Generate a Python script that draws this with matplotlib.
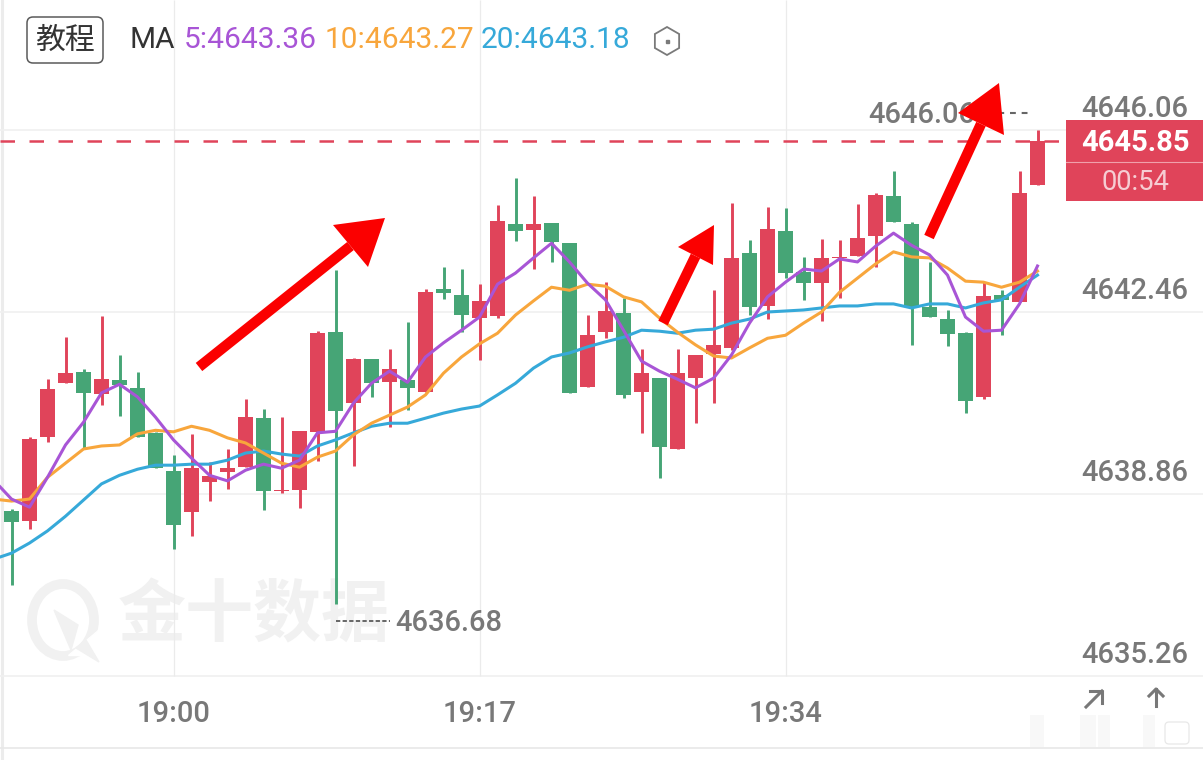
"""K-line chart with MA lines, redrawn from a screenshot."""

import numpy as np
import matplotlib
matplotlib.use("Agg")
import matplotlib.pyplot as plt
from matplotlib.patches import Ellipse, FancyBboxPatch, Polygon, Rectangle, RegularPolygon

plt.rcParams["font.family"] = ["Roboto", "Noto Sans CJK SC", "DejaVu Sans"]

# -----------------------------------------------------------------------
# Data (prices)
# -----------------------------------------------------------------------
opens = [4638.52, 4638.32, 4639.99, 4641.05, 4641.27, 4640.84, 4641.11, 4640.96, 4640.07, 4639.31,
         4638.50, 4639.10, 4639.29, 4639.39, 4640.36, 4638.91, 4638.94, 4640.09, 4642.06, 4640.66,
         4641.53, 4641.07, 4641.11, 4640.88, 4642.91, 4642.79, 4642.34, 4642.38, 4644.20, 4644.08,
         4644.22, 4643.82, 4640.98, 4642.06, 4642.44, 4640.88, 4641.15, 4639.75, 4641.15, 4641.63,
         4641.75, 4643.63, 4642.58, 4644.06, 4643.25, 4643.03, 4643.52, 4643.57, 4643.96, 4644.75,
         4644.20, 4642.56, 4642.32, 4642.04, 4640.78, 4642.79, 4642.66, 4644.97]
highs = [4638.56, 4639.99, 4641.13, 4641.96, 4641.33, 4642.38, 4641.61, 4641.27, 4640.09, 4639.63,
         4640.05, 4639.49, 4639.75, 4640.74, 4640.54, 4640.38, 4640.10, 4642.08, 4643.29, 4641.55,
         4641.53, 4641.73, 4642.26, 4642.91, 4643.35, 4643.31, 4643.01, 4644.58, 4645.11, 4644.75,
         4644.22, 4643.82, 4642.40, 4643.05, 4642.74, 4641.73, 4641.15, 4641.73, 4641.61, 4642.89,
         4644.61, 4643.88, 4644.54, 4644.52, 4643.55, 4643.90, 4643.88, 4644.59, 4644.81, 4645.25,
         4644.24, 4643.45, 4642.50, 4642.06, 4643.05, 4642.89, 4645.25, 4646.06]
lows = [4637.06, 4638.17, 4639.89, 4641.05, 4639.77, 4640.62, 4640.40, 4639.99, 4639.37, 4637.77,
        4638.03, 4638.72, 4638.96, 4639.39, 4638.54, 4638.88, 4638.58, 4639.51, 4636.68, 4639.41,
        4640.78, 4640.18, 4640.52, 4640.88, 4642.72, 4642.06, 4641.51, 4642.34, 4643.86, 4643.31,
        4643.45, 4640.86, 4640.98, 4641.94, 4640.76, 4640.07, 4639.18, 4639.75, 4640.26, 4640.66,
        4641.71, 4642.40, 4642.32, 4643.13, 4642.70, 4642.28, 4642.74, 4643.57, 4643.35, 4644.24,
        4641.81, 4642.36, 4641.79, 4640.46, 4640.74, 4642.00, 4642.66, 4644.97]
closes = [4638.31, 4639.95, 4640.94, 4641.25, 4640.86, 4641.13, 4641.01, 4639.99, 4639.37, 4638.25,
          4639.37, 4639.21, 4639.37, 4640.38, 4638.92, 4638.93, 4640.10, 4642.04, 4640.50, 4641.53,
          4641.05, 4641.33, 4640.96, 4642.85, 4642.83, 4642.40, 4642.68, 4644.26, 4644.06, 4644.20,
          4643.84, 4640.86, 4642.00, 4642.48, 4640.82, 4641.25, 4639.79, 4641.25, 4641.61, 4641.81,
          4643.53, 4642.56, 4644.10, 4643.23, 4643.03, 4643.53, 4643.54, 4643.92, 4644.77, 4644.24,
          4642.56, 4642.36, 4642.02, 4640.70, 4642.78, 4642.70, 4644.81, 4645.85]

# the MA lines start one bar before the first visible candle
ma5 = [4639.14, 4638.76, 4638.60, 4639.19, 4639.83, 4640.28, 4640.86, 4641.03, 4640.78, 4640.38,
       4639.93, 4639.57, 4639.23, 4639.12, 4639.33, 4639.45, 4639.37, 4639.53, 4640.07, 4640.10,
       4640.66, 4641.05, 4641.29, 4641.07, 4641.57, 4641.85, 4642.10, 4642.36, 4643.01, 4643.23,
       4643.53, 4643.82, 4643.45, 4643.03, 4642.70, 4642.10, 4641.49, 4641.29, 4641.13, 4640.96,
       4641.15, 4641.61, 4642.24, 4642.76, 4643.05, 4643.31, 4643.27, 4643.51, 4643.45, 4643.76,
       4644.02, 4643.78, 4643.59, 4643.19, 4642.36, 4642.08, 4642.10, 4642.62, 4643.37]
ma10 = [4638.76, 4638.72, 4638.76, 4639.19, 4639.47, 4639.75, 4639.81, 4639.83, 4640.05, 4640.12,
        4640.09, 4640.20, 4640.12, 4639.97, 4639.87, 4639.67, 4639.47, 4639.39, 4639.59, 4639.71,
        4640.03, 4640.26, 4640.42, 4640.58, 4640.82, 4641.25, 4641.57, 4641.83, 4642.04, 4642.40,
        4642.68, 4642.95, 4642.89, 4643.01, 4642.97, 4642.76, 4642.66, 4642.34, 4642.06, 4641.81,
        4641.59, 4641.55, 4641.75, 4641.94, 4642.00, 4642.24, 4642.46, 4642.85, 4643.13, 4643.41,
        4643.65, 4643.55, 4643.53, 4643.33, 4643.07, 4643.05, 4642.95, 4643.05, 4643.27]
ma20 = [4637.57, 4637.69, 4637.89, 4638.13, 4638.42, 4638.74, 4639.06, 4639.23, 4639.35, 4639.43,
        4639.43, 4639.45, 4639.45, 4639.53, 4639.67, 4639.71, 4639.65, 4639.61, 4639.81, 4639.93,
        4640.07, 4640.20, 4640.26, 4640.26, 4640.36, 4640.46, 4640.54, 4640.60, 4640.82, 4641.05,
        4641.35, 4641.57, 4641.65, 4641.77, 4641.87, 4641.96, 4642.10, 4642.08, 4642.04, 4642.10,
        4642.12, 4642.24, 4642.32, 4642.46, 4642.48, 4642.50, 4642.54, 4642.58, 4642.58, 4642.62,
        4642.62, 4642.54, 4642.62, 4642.62, 4642.54, 4642.64, 4642.70, 4642.95, 4643.19]

price_ticks = [4646.06, 4642.46, 4638.86, 4635.26]
price_labels = ["4646.06", "4642.46", "4638.86", "4635.26"]
time_ticks = [9, 26, 43]
time_labels = ["19:00", "19:17", "19:34"]
ma_labels = ["5:4643.36", "10:4643.27", "20:4643.18"]

RED = "#e0445a"
GREEN = "#46a576"
PURPLE = "#a855d6"
ORANGE = "#f8a63c"
BLUE = "#36a9d9"
GREY = "#787878"
ARROW = "#fb0000"
LABEL_SIZE = 21

W, H = 1203, 760
BAR_PX = 18.0
PX_PER_UNIT = 182 / 3.6

# -----------------------------------------------------------------------
# Axes: background, price chart and foreground all fill the figure
# -----------------------------------------------------------------------
fig = plt.figure(figsize=(W / 100, H / 100), dpi=100, facecolor="white")
bg = fig.add_axes([0, 0, 1, 1], zorder=0)
ax = fig.add_axes([0, 0, 1, 1], zorder=1)
fg = fig.add_axes([0, 0, 1, 1], zorder=2)
for a in (bg, fg):
    a.set_xlim(0, W)
    a.set_ylim(H, 0)
for a in (bg, ax, fg):
    a.axis("off")
    a.patch.set_alpha(0)

x0 = -11.5 / BAR_PX
ax.set_xlim(x0, x0 + W / BAR_PX)
top = 4635.26 + 676 / PX_PER_UNIT
ax.set_ylim(top - H / PX_PER_UNIT, top)

# watermark
bg.text(254, 617, "金十数据", ha="center", va="center", fontsize=49, fontweight="bold",
        color="#f1f1f1", family=["Noto Sans CJK SC"])
bg.add_patch(Ellipse((63, 620), 62, 72, fill=False, ec="#f1f1f1", lw=7))
bg.add_patch(Polygon([(68, 655), (104, 655), (104, 625)], color="white"))
bg.add_patch(Polygon([(54, 610), (78, 625), (71, 650)], color="#f1f1f1"))
bg.add_patch(Polygon([(76, 648), (86, 640), (99, 662)], color="#f1f1f1"))

# -----------------------------------------------------------------------
# Grid and frame lines
# -----------------------------------------------------------------------
ax.hlines(price_ticks, *ax.get_xlim(), color="#f0f0f0", lw=1.2, zorder=1)
ax.vlines(time_ticks, price_ticks[-1], ax.get_ylim()[1], color="#ebebeb", lw=0.9, zorder=1)
bg.plot([1.5, 1.5], [0, H], color="#ececec", lw=2.2)
bg.plot([0, W], [748, 748], color="#e8e8e8", lw=1.2)

# -----------------------------------------------------------------------
# Candles
# -----------------------------------------------------------------------
x = np.arange(len(opens))
o, h, l, c = map(np.array, (opens, highs, lows, closes))
colors = [RED if up else GREEN for up in c >= o]
ax.vlines(x, l, h, colors=colors, lw=2.1, zorder=3)
ax.bar(x, np.abs(c - o), bottom=np.minimum(o, c), width=0.83, color=colors, lw=0, zorder=3)

# -----------------------------------------------------------------------
# Moving averages
# -----------------------------------------------------------------------
ma_x = np.arange(-1, len(opens))
for values, color in ((ma20, BLUE), (ma10, ORANGE), (ma5, PURPLE)):
    ax.plot(ma_x, values, color=color, lw=2.2, zorder=4, solid_joinstyle="round")

# -----------------------------------------------------------------------
# Axis labels
# -----------------------------------------------------------------------
for price, label in zip(price_ticks, price_labels):
    ax.annotate(label, (x0 + 1188 / BAR_PX, price), xytext=(0, 15), textcoords="offset points",
                ha="right", va="center", fontsize=LABEL_SIZE, fontweight="medium", color=GREY, zorder=5)
for tick, label in zip(time_ticks, time_labels):
    ax.text(tick, 4634.5, label, ha="center", va="center", fontsize=LABEL_SIZE, fontweight="medium", color=GREY)

# extreme markers
hi_idx, lo_idx = int(np.argmax(h)), int(np.argmin(l))
ax.annotate(f"{h[hi_idx]:.2f}", (hi_idx, h[hi_idx]), xytext=(-45, 10.5), textcoords="offset points",
            ha="right", va="center", fontsize=LABEL_SIZE, fontweight="medium", color=GREY, zorder=5)
ax.plot([hi_idx - 3.45, hi_idx - 0.3], [h[hi_idx] + 0.34] * 2, color="#666666", lw=1.5,
        dashes=(2.8, 2.8), zorder=5)
ax.plot([lo_idx, lo_idx + 3.0], [l[lo_idx] - 0.33] * 2, color="#666666", lw=1.4, dashes=(2.2, 1.2), zorder=5)
ax.annotate(f"{l[lo_idx]:.2f}", (lo_idx + 3.3, l[lo_idx] - 0.33), xytext=(0, -1.5), textcoords="offset points",
            ha="left", va="center", fontsize=LABEL_SIZE, fontweight="medium", color=GREY, zorder=5)

# last price line
ax.plot(ax.get_xlim(), [c[-1], c[-1]], color=RED, lw=1.8, dashes=(5.8, 5.8), zorder=2,
        dash_capstyle="butt")

# -----------------------------------------------------------------------
# Foreground: header, price box, icons, hand-drawn arrows
# -----------------------------------------------------------------------
fg.add_patch(FancyBboxPatch((27, 17), 76, 46, boxstyle="round,pad=0,rounding_size=6",
                            fc="white", ec="#5a5a5a", lw=1.1))
fg.text(65, 40, "教程", ha="center", va="center", fontsize=21.5, color="#333333",
        family=["Noto Sans CJK SC"])
fg.text(129, 40, "MA", ha="left", va="center", fontsize=21.5, color="#333333")
for px, label, color in zip((184, 325, 481), ma_labels, (PURPLE, ORANGE, BLUE)):
    fg.text(px, 40, label, ha="left", va="center", fontsize=21.5, color=color)
fg.add_patch(RegularPolygon((667, 41), 6, radius=14, fill=False, ec="#7a7a7a", lw=1.3))
fg.add_patch(Rectangle((665.5, 39.5), 3, 3, color="#7a7a7a"))

fg.add_patch(Rectangle((1066, 120), W - 1066, 81, color=RED, lw=0))
fg.plot([1066, W], [162, 162], color="#f0a0ab", lw=0.8)
fg.text(1135, 143, f"{c[-1]:.2f}", ha="center", va="center", fontsize=LABEL_SIZE, fontweight="bold", color="white")
fg.text(1135, 182, "00:54", ha="center", va="center", fontsize=19.7, color="#f6cdd3")

# small arrows at the bottom right
fg.plot([1086, 1102], [707, 691], color=GREY, lw=2.2)
fg.plot([1090, 1102, 1102], [691, 691, 703], color=GREY, lw=2.2)
fg.plot([1156, 1156], [706, 689], color=GREY, lw=2.2)
fg.plot([1149, 1156, 1163], [696, 689, 696], color=GREY, lw=2.2)

# blurred nav bar remains
for left, wid in ((1030, 14), (1080, 16), (1098, 12), (1143, 12)):
    fg.add_patch(Rectangle((left, 715), wid, 32, color="#dddddd", alpha=0.2, lw=0))
fg.add_patch(FancyBboxPatch((1165, 722), 24, 22, boxstyle="round,pad=0,rounding_size=4",
                            fc="none", ec="#e8e8e8", lw=0.9))

# red arrows painted over the chart: tail, tip, two head corners
arrows = [((199, 367), (385, 218), (333, 225), (368, 267)),
          ((663, 323), (714, 225), (678, 247), (713, 265)),
          ((929, 237), (999, 83), (958, 113), (1004, 135))]
for tail, tip, c1, c2 in arrows:
    mid = ((c1[0] + c2[0]) / 2, (c1[1] + c2[1]) / 2)
    fg.plot([tail[0], mid[0]], [tail[1], mid[1]], color=ARROW, lw=7.5, solid_capstyle="butt")
    fg.add_patch(Polygon([tip, c1, c2], color=ARROW, lw=0))

fig.savefig("out.png", dpi=100)
